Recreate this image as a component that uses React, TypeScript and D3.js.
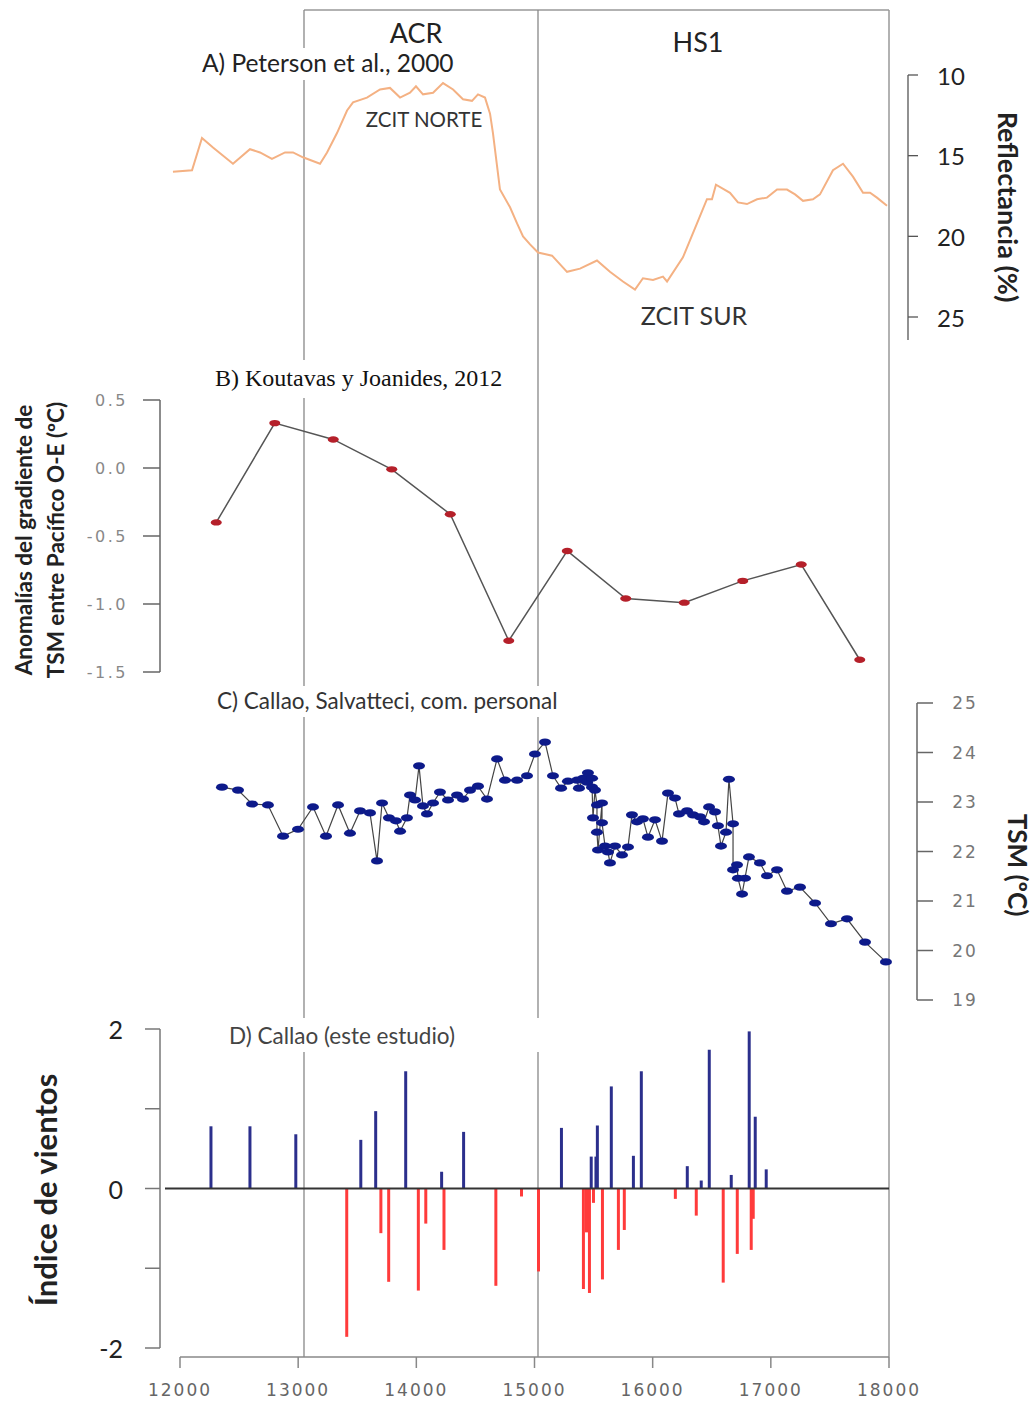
import React from 'react';
import * as d3 from 'd3';

// A) Peterson et al., 2000 - reflectance (%)
const reflYears = [11880, 12043, 12128, 12222, 12393, 12538, 12624, 12726, 12838, 12906, 12991, 13137, 13197, 13282, 13368, 13419, 13538, 13650, 13735, 13821, 13906, 13957, 14017, 14103, 14188, 14274, 14359, 14436, 14487, 14547, 14590, 14615, 14675, 14761, 14821, 14872, 14932, 15000, 15120, 15248, 15359, 15504, 15615, 15726, 15829, 15897, 15983, 16068, 16103, 16239, 16359, 16444, 16487, 16521, 16641, 16709, 16786, 16872, 16957, 17043, 17128, 17197, 17265, 17350, 17410, 17521, 17607, 17692, 17778, 17838, 17897, 17983];
const reflValues = [16.0, 15.9, 13.9, 14.5, 15.5, 14.6, 14.8, 15.2, 14.8, 14.8, 15.1, 15.5, 14.8, 13.6, 12.2, 11.7, 11.4, 10.9, 10.8, 11.4, 11.1, 10.7, 11.2, 11.1, 10.5, 10.9, 11.5, 11.6, 11.2, 11.4, 12.4, 13.6, 17.1, 18.2, 19.2, 20.0, 20.5, 21.0, 21.2, 22.2, 22.0, 21.5, 22.2, 22.8, 23.3, 22.6, 22.7, 22.5, 22.8, 21.3, 19.2, 17.7, 17.7, 16.8, 17.3, 17.9, 18.0, 17.7, 17.6, 17.1, 17.1, 17.4, 17.8, 17.7, 17.4, 15.9, 15.5, 16.3, 17.3, 17.3, 17.6, 18.1];
const reflTicks = [10, 15, 20, 25];

// B) Koutavas y Joanides, 2012 - gradient anomaly
const gradYears = [12250, 12750, 13250, 13750, 14250, 14750, 15250, 15750, 16250, 16750, 17250, 17750];
const gradValues = [-0.4, 0.33, 0.21, -0.01, -0.34, -1.27, -0.61, -0.96, -0.99, -0.83, -0.71, -1.41];
const gradTicks = [0.5, 0.0, -0.5, -1.0, -1.5];

// C) Callao, Salvatteci - SST
const sstYears = [12299, 12436, 12556, 12692, 12821, 12949, 13077, 13188, 13291, 13393, 13479, 13564, 13624, 13667, 13726, 13786, 13821, 13880, 13906, 13949, 13983, 14017, 14051, 14103, 14162, 14231, 14308, 14359, 14419, 14487, 14564, 14650, 14718, 14821, 14906, 14974, 15060, 15128, 15197, 15256, 15333, 15350, 15385, 15419, 15427, 15462, 15462, 15470, 15487, 15504, 15504, 15513, 15547, 15547, 15573, 15598, 15615, 15658, 15718, 15769, 15803, 15846, 15897, 15940, 16000, 16060, 16111, 16171, 16205, 16274, 16325, 16385, 16419, 16462, 16513, 16538, 16564, 16607, 16632, 16667, 16667, 16701, 16709, 16744, 16769, 16803, 16897, 16957, 17043, 17128, 17239, 17368, 17504, 17641, 17795, 17974];
const sstValues = [23.3, 23.24, 22.96, 22.94, 22.31, 22.45, 22.9, 22.31, 22.94, 22.37, 22.82, 22.78, 21.81, 22.98, 22.68, 22.62, 22.41, 22.68, 23.14, 23.04, 23.73, 22.92, 22.76, 22.98, 23.2, 23.04, 23.14, 23.06, 23.24, 23.32, 23.06, 23.87, 23.44, 23.44, 23.53, 23.97, 24.21, 23.53, 23.28, 23.42, 23.44, 23.28, 23.48, 23.4, 23.59, 23.48, 23.3, 22.68, 23.24, 22.94, 22.39, 22.03, 22.98, 22.58, 22.11, 21.99, 21.77, 22.11, 21.93, 22.09, 22.74, 22.6, 22.66, 22.29, 22.64, 22.21, 23.18, 23.08, 22.76, 22.82, 22.74, 22.7, 22.6, 22.9, 22.8, 22.52, 22.11, 22.39, 23.46, 22.56, 21.63, 21.73, 21.46, 21.14, 21.46, 21.89, 21.77, 21.51, 21.63, 21.2, 21.28, 20.96, 20.54, 20.64, 20.17, 19.77];
const sstTicks = [25, 24, 23, 22, 21, 20, 19];

// D) Callao (este estudio) - wind index
const windYears = [12262, 12592, 12980, 13411, 13530, 13656, 13700, 13766, 13910, 14017, 14080, 14214, 14234, 14400, 14673, 14890, 15034, 15228, 15414, 15440, 15465, 15480, 15499, 15520, 15532, 15575, 15650, 15710, 15760, 15837, 15904, 16192, 16293, 16369, 16411, 16479, 16597, 16665, 16716, 16817, 16834, 16851, 16868, 16961];
const windValues = [0.78, 0.78, 0.68, -1.86, 0.61, 0.97, -0.56, -1.17, 1.47, -1.28, -0.44, 0.21, -0.77, 0.71, -1.22, -0.1, -1.04, 0.76, -1.26, -0.55, -1.31, 0.4, -0.18, 0.4, 0.79, -1.14, 1.28, -0.77, -0.52, 0.41, 1.47, -0.13, 0.28, -0.34, 0.1, 1.74, -1.18, 0.17, -0.82, 1.97, -0.77, -0.38, 0.9, 0.24];
const windTicks = [2, 1, 0, -1, -2];
const windLabels = [2, 0, -2];

const yearTicks = [12000, 13000, 14000, 15000, 16000, 17000, 18000];
const periodLines = [13000, 15000];

const SANS = "Lato, 'Open Sans', sans-serif";
const MONO = "'DejaVu Sans', sans-serif";

export default function App() {
  const x = d3.scaleLinear().domain([12000, 18000]).range([187, 889]);
  const xD = d3.scaleLinear().domain([12000, 18000]).range([180, 889]);
  const yA = d3.scaleLinear().domain([10, 25]).range([75, 317]);
  const yB = d3.scaleLinear().domain([0.5, -1.5]).range([400, 672]);
  const yC = d3.scaleLinear().domain([25, 19]).range([703, 1000]);
  const yD = d3.scaleLinear().domain([2, -2]).range([1029, 1348]);

  const reflPts = reflYears.map((t, i) => [t, reflValues[i]] as [number, number]);
  const gradPts = gradYears.map((t, i) => [t, gradValues[i]] as [number, number]);
  const sstPts = sstYears.map((t, i) => [t, sstValues[i]] as [number, number]);

  const lineA = d3.line<[number, number]>().x(d => x(d[0])).y(d => yA(d[1]));
  const lineB = d3.line<[number, number]>().x(d => x(d[0])).y(d => yB(d[1]));
  const lineC = d3.line<[number, number]>().x(d => x(d[0])).y(d => yC(d[1]));

  return (
    <svg width={1035} height={1403} style={{ position: 'absolute', left: 0, top: 0, background: '#fff' }}>
      {/* period frame and vertical lines */}
      <line x1={x(13000)} x2={889} y1={10} y2={10} stroke="#999" strokeWidth={1.5} />
      <line x1={889} x2={889} y1={10} y2={1357} stroke="#999" strokeWidth={1.5} />
      {periodLines.map(t => (
        <g key={t}>
          <line x1={x(t)} x2={x(t)} y1={10} y2={1018} stroke="#888" strokeWidth={1.3} />
          <line x1={x(t)} x2={x(t)} y1={1052} y2={1357} stroke="#888" strokeWidth={1.3} />
        </g>
      ))}

      {/* Panel A */}
      <text x={416} y={43} textAnchor="middle" fontFamily={SANS} fontSize={27} fill="#222">ACR</text>
      <text x={698} y={52} textAnchor="middle" fontFamily={SANS} fontSize={27} fill="#222">HS1</text>
      <rect x={200} y={48} width={264} height={32} fill="#fff" />
      <text x={202} y={72} fontFamily={SANS} fontSize={24.5} fill="#222">A) Peterson et al., 2000</text>
      <path d={lineA(reflPts) || ''} fill="none" stroke="#f4b183" strokeWidth={2} />
      <text x={424} y={127} textAnchor="middle" fontFamily={SANS} fontSize={20.5} fill="#333">ZCIT NORTE</text>
      <text x={694} y={325} textAnchor="middle" fontFamily={SANS} fontSize={25} fill="#333">ZCIT SUR</text>
      <line x1={908} x2={908} y1={yA(10)} y2={340} stroke="#555" strokeWidth={1.3} />
      {reflTicks.map(v => (
        <g key={v}>
          <line x1={908} x2={918} y1={yA(v)} y2={yA(v)} stroke="#555" strokeWidth={1.3} />
          <text x={937} y={yA(v)} dominantBaseline="central" fontFamily={SANS} fontSize={24} fill="#222">{v}</text>
        </g>
      ))}
      <text transform={`translate(1008,${207}) rotate(90)`} textAnchor="middle" dominantBaseline="central" fontFamily={SANS} fontWeight="bold" fontSize={27} fill="#222">Reflectancia (%)</text>

      {/* Panel B */}
      <rect x={212} y={360} width={298} height={38} fill="#fff" />
      <text x={215} y={386} fontFamily="'Liberation Serif', 'Times New Roman', serif" fontSize={24} fill="#111">B) Koutavas y Joanides, 2012</text>
      <line x1={160} x2={160} y1={yB(0.5)} y2={yB(-1.5)} stroke="#666" strokeWidth={1.5} />
      {gradTicks.map(v => (
        <g key={v}>
          <line x1={143} x2={160} y1={yB(v)} y2={yB(v)} stroke="#666" strokeWidth={1.5} />
          <text x={128} y={yB(v)} textAnchor="end" dominantBaseline="central" fontFamily={MONO} fontSize={16} letterSpacing={2.5} fill="#888">{v.toFixed(1)}</text>
        </g>
      ))}
      <text transform={`translate(23,540) rotate(-90)`} textAnchor="middle" dominantBaseline="central" fontFamily={SANS} fontWeight="bold" fontSize={22.5} fill="#222">Anomalías del gradiente de</text>
      <text transform={`translate(55,540) rotate(-90)`} textAnchor="middle" dominantBaseline="central" fontFamily={SANS} fontWeight="bold" fontSize={22.5} fill="#222">TSM entre Pacífico O-E (ºC)</text>
      <path d={lineB(gradPts) || ''} fill="none" stroke="#555" strokeWidth={1.5} />
      {gradPts.map((d, i) => (
        <ellipse key={i} cx={x(d[0])} cy={yB(d[1])} rx={5.5} ry={3.2} fill="#b5202a" />
      ))}

      {/* Panel C */}
      <rect x={214} y={686} width={348} height={31} fill="#fff" />
      <text x={217} y={709} fontFamily={SANS} fontSize={22.5} fill="#333">C) Callao, Salvatteci, com. personal</text>
      <path d={lineC(sstPts) || ''} fill="none" stroke="#444" strokeWidth={1.2} />
      {sstPts.map((d, i) => (
        <ellipse key={i} cx={x(d[0])} cy={yC(d[1])} rx={6} ry={3.6} fill="#0d1a8a" />
      ))}
      <line x1={917} x2={917} y1={yC(25)} y2={yC(19)} stroke="#666" strokeWidth={1.5} />
      {sstTicks.map(v => (
        <g key={v}>
          <line x1={917} x2={933} y1={yC(v)} y2={yC(v)} stroke="#666" strokeWidth={1.5} />
          <text x={965} y={yC(v)} textAnchor="middle" dominantBaseline="central" fontFamily={MONO} fontSize={17} letterSpacing={2} fill="#777">{v}</text>
        </g>
      ))}
      <text transform={`translate(1018,865) rotate(90)`} textAnchor="middle" dominantBaseline="central" fontFamily={SANS} fontWeight="bold" fontSize={26} fill="#222">TSM (ºC)</text>

      {/* Panel D */}
      <text x={229} y={1044} fontFamily={SANS} fontSize={22.5} fill="#444">D) Callao (este estudio)</text>
      <line x1={160} x2={160} y1={yD(2)} y2={yD(-2)} stroke="#777" strokeWidth={1.5} />
      {windTicks.map(v => (
        <line key={v} x1={145} x2={160} y1={yD(v)} y2={yD(v)} stroke="#777" strokeWidth={1.5} />
      ))}
      {windLabels.map(v => (
        <text key={v} x={123} y={yD(v)} textAnchor="end" dominantBaseline="central" fontFamily={SANS} fontSize={25} fill="#222">{v}</text>
      ))}
      <text transform={`translate(45,1190) rotate(-90)`} textAnchor="middle" dominantBaseline="central" fontFamily={SANS} fontWeight="bold" fontSize={31} fill="#222">Índice de vientos</text>
      {windYears.map((t, i) => {
        const v = windValues[i];
        return (
          <line key={i} x1={xD(t)} x2={xD(t)} y1={yD(0)} y2={yD(v)}
            stroke={v >= 0 ? '#2b2f8c' : '#ff3b3b'} strokeWidth={3} />
        );
      })}
      <line x1={165} x2={889} y1={yD(0)} y2={yD(0)} stroke="#333" strokeWidth={2} />
      <line x1={xD(12000)} x2={889} y1={1357} y2={1357} stroke="#888" strokeWidth={1.5} />
      {yearTicks.map(t => (
        <g key={t}>
          <line x1={xD(t)} x2={xD(t)} y1={1357} y2={1368} stroke="#888" strokeWidth={1.5} />
          <text x={xD(t)} y={1396} textAnchor="middle" fontFamily={MONO} fontSize={17} letterSpacing={2} fill="#666">{t}</text>
        </g>
      ))}
    </svg>
  );
}
